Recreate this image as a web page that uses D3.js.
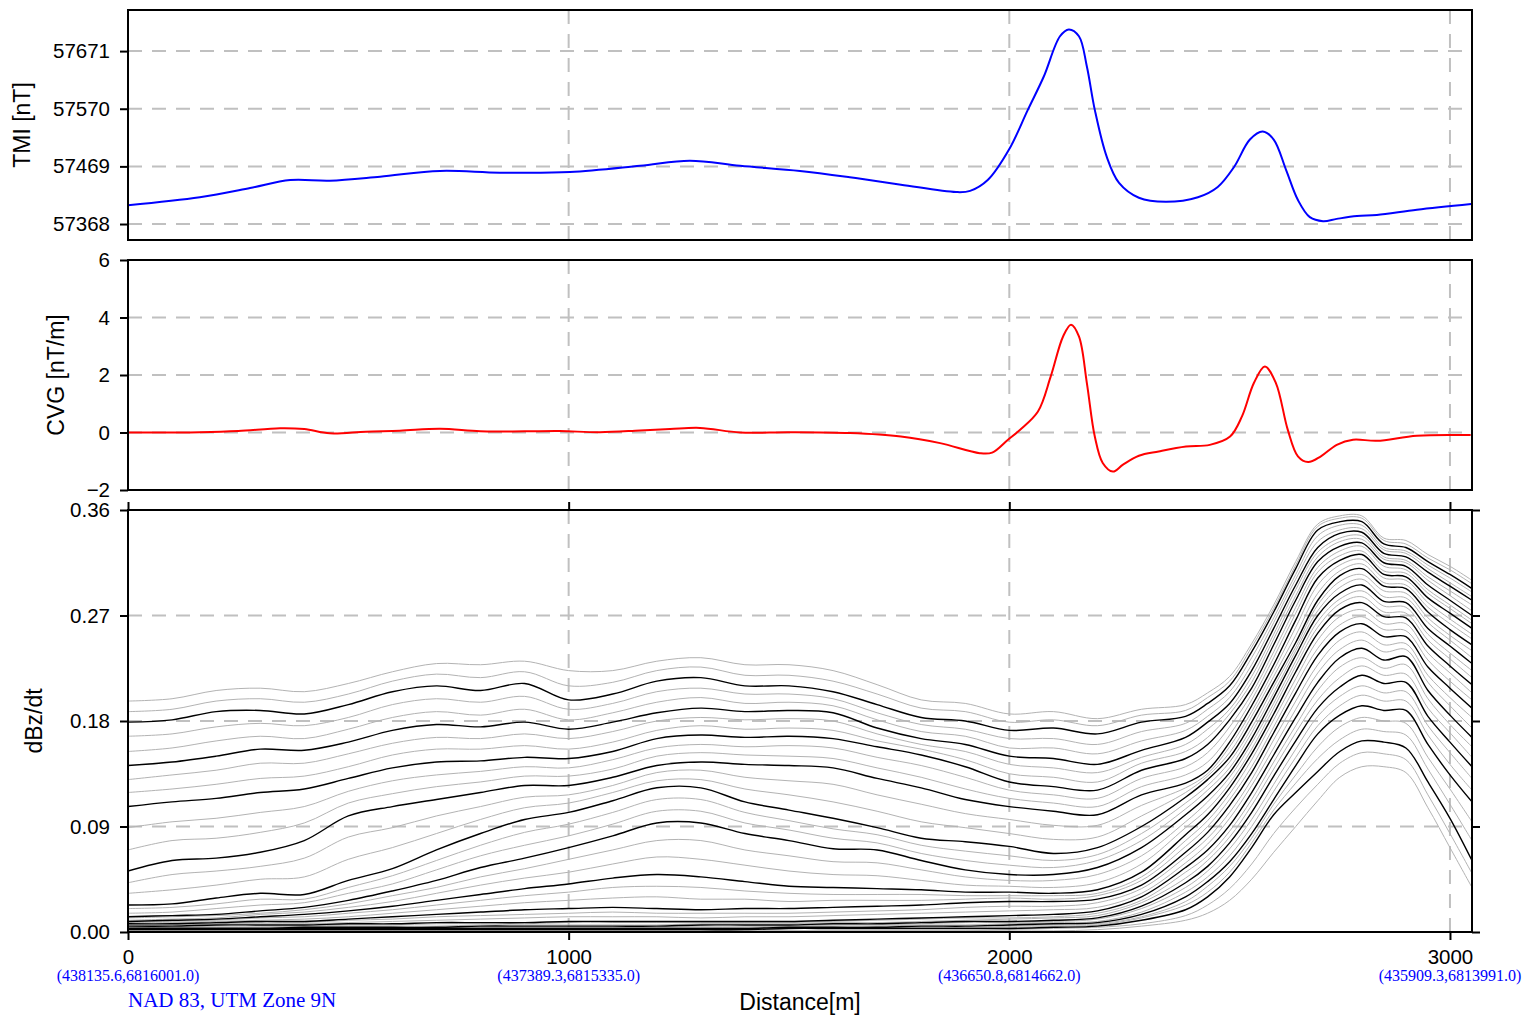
<!DOCTYPE html>
<html><head><meta charset="utf-8">
<script src="https://cdn.jsdelivr.net/npm/d3@7"></script>
<style>body{margin:0;background:#fff}svg{display:block}</style>
</head><body>
<svg id="c" width="1523" height="1016"></svg>
<script>
// ---------- axis / label data ----------
const distTicks = [0, 1000, 2000, 3000];
const utmLabels = ["(438135.6,6816001.0)", "(437389.3,6815335.0)", "(436650.8,6814662.0)", "(435909.3,6813991.0)"];
const tmiTicks = [57368, 57469, 57570, 57671];
const cvgTicks = [-2, 0, 2, 4, 6];
const dbdtTicks = [0, 0.09, 0.18, 0.27, 0.36];

// ---------- TMI (nT) ----------
const tmiDist = [0,163,277,368,458,572,708,844,1003,1162,1275,1389,1525,1638,1754,1879,1911,1951,1999,2042,2078,2115,2135,2158,2176,2194,2221,2249,2294,2355,2428,2473,2510,2546,2575,2600,2628,2655,2682,2712,2743,2789,2834,2925,3048];
const tmiVal = [57401,57415,57431,57445,57444,57451,57461,57458,57459,57470,57479,57470,57461,57450,57437,57424,57426,57445,57498,57568,57626,57697,57709,57697,57644,57568,57486,57440,57414,57407,57415,57433,57468,57516,57530,57516,57463,57410,57380,57373,57377,57382,57384,57393,57403];

// ---------- CVG (nT/m) ----------
const cvgDist = [0,163,250,345,400,458,540,617,708,799,900,980,1071,1162,1230,1298,1389,1500,1638,1754,1843,1933,1961,1997,2024,2065,2094,2122,2140,2158,2176,2194,2212,2235,2258,2294,2339,2401,2455,2501,2528,2555,2580,2605,2632,2655,2678,2707,2743,2780,2834,2925,3047];
const cvgVal = [0,0.01,0.05,0.15,0.12,-0.03,0.03,0.06,0.13,0.04,0.04,0.05,0.01,0.07,0.12,0.16,0.0,0.01,-0.02,-0.14,-0.37,-0.72,-0.70,-0.25,0.09,0.73,1.95,3.34,3.75,3.34,1.72,-0.14,-1.06,-1.36,-1.12,-0.81,-0.66,-0.49,-0.43,-0.14,0.56,1.72,2.30,1.72,0.09,-0.83,-1.03,-0.83,-0.43,-0.25,-0.29,-0.11,-0.09];

// ---------- dBz/dt time channels (values in units of 1e-3) ----------
const chDist = [0,100,200,300,400,500,600,700,800,900,1000,1100,1200,1300,1400,1500,1600,1700,1800,1900,2000,2100,2200,2300,2400,2450,2500,2550,2600,2650,2700,2750,2800,2850,2900,2950,3000,3050];
const ch01 = [197,199,206,208,205,212,222,229,228,231,223,223,231,234,228,228,223,211,198,195,186,188,182,190,194,204,218,246,279,316,348,355,355,336,334,322,312,300];
const ch02 = [188,190,197,199,196,203,214,220,217,222,210,213,223,226,219,219,214,203,191,188,179,181,176,185,189,200,214,243,276,313,346,353,353,334,331,319,309,297];
const ch03 = [179,181,188,189,186,194,205,210,206,212,198,203,214,217,210,210,205,194,183,180,172,174,169,179,184,195,210,239,273,310,343,350,350,331,328,316,305,293];
const ch04 = [167,169,175,178,176,183,194,199,196,201,190,195,205,208,203,203,199,187,177,173,165,165,160,171,178,190,205,234,268,305,338,347,347,328,325,313,302,290];
const ch05 = [154,157,163,167,165,173,183,188,185,190,181,187,196,200,195,196,193,181,171,167,157,157,152,163,172,184,200,228,264,301,333,343,344,326,323,310,298,286];
const ch06 = [142,145,150,156,155,162,172,177,175,179,173,179,187,191,188,189,187,174,165,160,150,148,143,155,166,179,195,223,259,296,328,340,341,323,320,307,295,283];
const ch07 = [130,134,138,144,144,152,161,166,165,169,165,171,180,183,181,182,180,169,160,154,143,140,136,149,160,173,190,218,254,292,324,336,338,320,317,303,291,279];
const ch08 = [119,122,126,131,133,141,151,156,156,159,156,162,172,176,173,174,172,163,156,147,135,132,128,144,154,166,186,213,250,287,320,333,335,318,315,300,287,274];
const ch09 = [107,111,114,119,122,131,140,145,146,149,148,154,165,168,166,167,165,158,151,141,128,124,121,138,148,160,181,208,245,283,316,329,332,315,312,296,283,270];
const ch10 = [89,94,97,102,107,120,129,134,137,141,140,147,157,160,158,159,157,149,142,132,121,117,114,131,141,153,175,203,239,277,311,325,329,312,309,292,279,266];
const ch11 = [70,78,80,85,93,110,118,124,128,133,133,139,150,153,151,150,148,140,132,122,114,110,107,124,134,145,168,198,234,272,307,321,325,308,306,289,276,263];
const ch12 = [52,61,63,68,78,99,107,113,119,125,125,132,142,145,143,142,140,131,123,113,107,103,100,117,127,138,162,193,228,266,302,317,322,305,303,285,272,259];
const ch13 = [42,49,52,56,63,81,89,99,107,115,117,125,136,138,132,129,126,117,109,101,96,91,91,108,123,135,158,188,223,260,296,313,318,302,300,281,267,254];
const ch14 = [33,36,40,45,47,62,72,84,96,106,110,119,129,130,122,117,111,103,94,89,84,79,81,99,119,133,153,184,218,253,289,308,314,298,296,277,263,250];
const ch15 = [23,24,29,33,32,44,54,70,84,96,102,112,123,123,111,104,97,89,80,77,73,67,72,90,115,130,149,179,213,247,283,304,310,295,293,273,258,245];
const ch16 = [20,21,24,28,28,38,48,61,74,85,92,102,113,113,102,95,88,83,74,69,65,61,66,84,110,125,145,174,209,243,279,299,305,291,289,268,253,240];
const ch17 = [16,17,20,23,25,33,41,53,65,74,82,92,103,103,93,87,80,76,67,61,57,55,61,78,105,121,140,170,204,240,274,294,301,286,285,264,249,234];
const ch18 = [13,14,15,18,21,27,35,44,55,63,72,82,93,93,84,78,71,70,61,53,49,49,55,72,100,116,136,165,200,236,270,289,296,282,281,259,244,229];
const ch19 = [12,13,14,16,19,24,31,38,47,54,62,70,78,78,70,65,60,59,53,47,44,44,49,65,94,111,132,161,195,231,265,284,291,278,277,254,238,223];
const ch20 = [10,11,12,15,17,21,26,33,40,46,51,58,64,62,57,52,49,48,44,40,39,38,42,58,89,105,127,156,191,227,260,280,286,273,272,249,233,217];
const ch21 = [9,10,11,13,15,18,22,27,32,37,41,46,49,47,43,39,38,37,36,34,34,33,36,51,83,100,123,152,186,222,255,275,281,269,268,244,227,211];
const ch22 = [8,9,10,12,13,16,19,23,27,31,34,38,39,38,35,33,32,32,32,31,31,31,33,47,78,95,118,147,181,216,249,269,275,263,263,238,221,204];
const ch23 = [8,8,9,10,11,13,16,19,22,25,27,29,30,28,28,26,27,27,27,28,29,28,31,44,73,90,113,141,175,210,242,262,269,258,257,232,214,198];
const ch24 = [7,7,8,9,9,11,13,15,17,19,20,21,20,19,20,20,21,22,23,25,26,26,28,40,68,85,108,136,170,204,236,256,263,252,252,226,208,191];
const ch25 = [6,6,7,8,8,10,11,13,14,15,16,17,16,16,16,16,17,18,19,21,22,22,25,37,64,80,102,130,164,197,228,249,256,245,246,219,200,183];
const ch26 = [6,6,7,7,7,8,9,10,11,12,13,13,13,12,13,13,14,15,16,17,18,19,21,33,59,75,97,125,157,190,221,241,249,239,241,213,193,174];
const ch27 = [5,5,6,6,6,7,7,8,8,8,9,9,9,9,9,9,10,11,12,13,14,15,18,30,55,70,91,119,151,183,213,234,242,232,235,206,185,166];
const ch28 = [4,4,5,5,5,6,6,7,7,7,8,8,8,8,8,8,9,10,11,12,12,13,16,27,51,65,86,113,145,176,206,226,234,225,228,199,177,158];
const ch29 = [4,4,4,4,5,5,5,5,6,6,6,6,6,7,7,7,8,8,9,10,11,12,14,25,46,61,81,108,139,170,198,217,227,219,220,191,170,149];
const ch30 = [3,3,3,3,4,4,4,4,5,5,5,5,5,6,6,6,7,7,8,9,9,10,12,22,42,56,76,102,133,163,191,209,219,212,213,184,162,141];
const ch31 = [3,3,3,3,4,4,4,4,4,4,4,4,4,5,5,5,6,6,7,8,8,9,11,20,38,52,71,96,126,156,184,201,210,204,205,176,153,131];
const ch32 = [3,3,3,3,3,3,3,3,4,4,4,4,4,4,4,5,5,5,6,6,7,8,9,17,34,47,65,90,120,149,176,193,202,197,197,168,143,121];
const ch33 = [3,3,3,3,3,3,3,3,3,3,3,3,3,3,3,4,4,4,5,5,6,7,8,15,30,43,60,84,113,142,169,185,193,189,189,160,134,111];
const ch34 = [3,3,3,3,3,3,3,3,3,3,3,3,3,3,3,4,4,4,4,4,5,6,7,13,26,39,56,80,109,134,158,175,183,180,178,149,122,94];
const ch35 = [2,2,2,2,2,2,2,2,2,2,2,2,2,2,2,3,3,3,4,4,4,5,6,12,23,34,51,76,104,127,148,164,173,171,168,139,109,78];
const ch36 = [2,2,2,2,2,2,2,2,2,2,2,2,2,2,2,3,3,3,3,3,3,4,5,10,19,30,47,72,100,119,137,154,163,162,157,128,97,61];
const ch37 = [1,1,1,1,1,1,1,1,1,1,1,1,1,1,1,1,1,1,1,1,2,3,4,7,14,23,37,58,84,106,126,144,153,152,147,117,84,50];
const ch38 = [1,1,1,1,1,1,1,1,1,1,1,1,1,1,1,1,1,1,1,1,1,1,2,5,10,16,27,45,68,90,112,132,141,141,136,106,72,38];
const DBDT_UNIT = 1e-3;
const channels = [ch01,ch02,ch03,ch04,ch05,ch06,ch07,ch08,ch09,ch10,ch11,ch12,ch13,ch14,ch15,ch16,ch17,ch18,ch19,
                  ch20,ch21,ch22,ch23,ch24,ch25,ch26,ch27,ch28,ch29,ch30,ch31,ch32,ch33,ch34,ch35,ch36,ch37,ch38];

// ---------- layout ----------
const SANS = "'Liberation Sans', Arial, Helvetica, sans-serif";
const SERIF = "'Liberation Serif', 'Times New Roman', serif";
const L = 128, R = 1472;
const P1 = [10, 240], P2 = [260, 490], P3 = [510, 932];
const GRID = "#c0c0c0", DASH = "14,10";
const CURVE = d3.curveCatmullRom.alpha(0.5);

const svg = d3.select("#c");
const x = d3.scaleLinear().domain([0, 3050]).range([L, R]);
const yT = d3.scaleLinear().domain([57340, 57743]).range([P1[1], P1[0]]);
const yM = d3.scaleLinear().domain([-2, 6]).range([P2[1], P2[0]]);
const yB = d3.scaleLinear().domain([0, 0.36]).range([P3[1], P3[0]]);

const defs = svg.append("defs");
[P1, P2, P3].forEach((p, i) => {
  defs.append("clipPath").attr("id", "clip" + i).append("rect")
    .attr("x", L).attr("y", p[0]).attr("width", R - L).attr("height", p[1] - p[0]);
});

function grid(yScale, yTicks, p) {
  const g = svg.append("g");
  g.selectAll(null).data(yTicks).join("line")
    .attr("x1", L).attr("x2", R).attr("y1", d => yScale(d)).attr("y2", d => yScale(d))
    .attr("stroke", GRID).attr("stroke-width", 2).attr("stroke-dasharray", DASH);
  g.selectAll(null).data(distTicks.filter(d => d > 0)).join("line")
    .attr("x1", d => x(d)).attr("x2", d => x(d)).attr("y1", p[0]).attr("y2", p[1])
    .attr("stroke", GRID).attr("stroke-width", 2).attr("stroke-dasharray", DASH);
}
function styleAxis(g) {
  g.select(".domain").remove();
  g.selectAll(".tick line").attr("stroke", "#000").attr("stroke-width", 2);
  g.selectAll(".tick text").attr("fill", "#000");
  g.attr("font-size", 20.5).attr("font-family", SANS);
  return g;
}
function frame(p) {
  svg.append("rect").attr("x", L).attr("y", p[0]).attr("width", R - L).attr("height", p[1] - p[0])
    .attr("fill", "none").attr("stroke", "#000").attr("stroke-width", 2);
}

// ---------- panel 1: TMI ----------
grid(yT, tmiTicks, P1);
svg.append("path").attr("clip-path", "url(#clip0)")
  .datum(d3.zip(tmiDist, tmiVal))
  .attr("d", d3.line().x(d => x(d[0])).y(d => yT(d[1])).curve(CURVE))
  .attr("fill", "none").attr("stroke", "#0000ff").attr("stroke-width", 2);
styleAxis(svg.append("g").attr("transform", `translate(${L},0)`)
  .call(d3.axisLeft(yT).tickValues(tmiTicks).tickFormat(d3.format("d")).tickSize(8).tickPadding(10)));
frame(P1);

// ---------- panel 2: CVG ----------
grid(yM, cvgTicks, P2);
svg.append("path").attr("clip-path", "url(#clip1)")
  .datum(d3.zip(cvgDist, cvgVal))
  .attr("d", d3.line().x(d => x(d[0])).y(d => yM(d[1])).curve(CURVE))
  .attr("fill", "none").attr("stroke", "#ff0000").attr("stroke-width", 2);
styleAxis(svg.append("g").attr("transform", `translate(${L},0)`)
  .call(d3.axisLeft(yM).tickValues(cvgTicks).tickFormat(d3.format("d")).tickSize(8).tickPadding(10)));
frame(P2);

// ---------- panel 3: dBz/dt ----------
grid(yB, dbdtTicks, P3);
const chLine = d3.line().x((d, i) => x(chDist[i])).y(d => yB(d * DBDT_UNIT)).curve(CURVE);
const cg = svg.append("g").attr("clip-path", "url(#clip2)");
const isBlack = i => i % 3 === 2;
cg.selectAll("path.g").data(channels.filter((c, i) => !isBlack(i))).join("path")
  .attr("d", chLine).attr("fill", "none").attr("stroke", "#b3b3b3").attr("stroke-width", 1);
cg.selectAll("path.b").data(channels.filter((c, i) => isBlack(i))).join("path")
  .attr("d", chLine).attr("fill", "none").attr("stroke", "#000").attr("stroke-width", 1.4);

styleAxis(svg.append("g").attr("transform", `translate(${L},0)`)
  .call(d3.axisLeft(yB).tickValues(dbdtTicks).tickFormat(d3.format(".2f")).tickSize(8).tickPadding(10)));
styleAxis(svg.append("g").attr("transform", `translate(${R},0)`)
  .call(d3.axisRight(yB).tickValues(dbdtTicks).tickFormat("").tickSize(8)));
styleAxis(svg.append("g").attr("transform", `translate(0,${P3[0]})`)
  .call(d3.axisTop(x).tickValues(distTicks).tickFormat("").tickSize(8)));
styleAxis(svg.append("g").attr("transform", `translate(0,${P3[1]})`)
  .call(d3.axisBottom(x).tickValues(distTicks).tickFormat(d3.format("d")).tickSize(8).tickPadding(9)));
frame(P3);

// UTM coordinates under distance ticks
svg.append("g").selectAll("text").data(distTicks).join("text")
  .attr("x", d => x(d)).attr("y", 981).attr("text-anchor", "middle")
  .attr("font-family", SERIF).attr("font-size", 16).attr("fill", "#0000ff")
  .text((d, i) => utmLabels[i]);
svg.append("text").attr("x", L).attr("y", 1007)
  .attr("font-family", SERIF).attr("font-size", 21).attr("fill", "#0000ff")
  .text("NAD 83, UTM Zone 9N");
svg.append("text").attr("x", (L + R) / 2).attr("y", 1010).attr("text-anchor", "middle")
  .attr("font-family", SANS).attr("font-size", 23).attr("fill", "#000").text("Distance[m]");

// y-axis titles
function yTitle(txt, bx, cy) {
  svg.append("text").attr("transform", `translate(${bx},${cy}) rotate(-90)`)
    .attr("text-anchor", "middle").attr("font-family", SANS).attr("font-size", 23)
    .attr("fill", "#000").text(txt);
}
yTitle("TMI [nT]", 30, 125);
yTitle("CVG [nT/m]", 64, 375);
yTitle("dBz/dt", 42, 721);
</script>
</body></html>
